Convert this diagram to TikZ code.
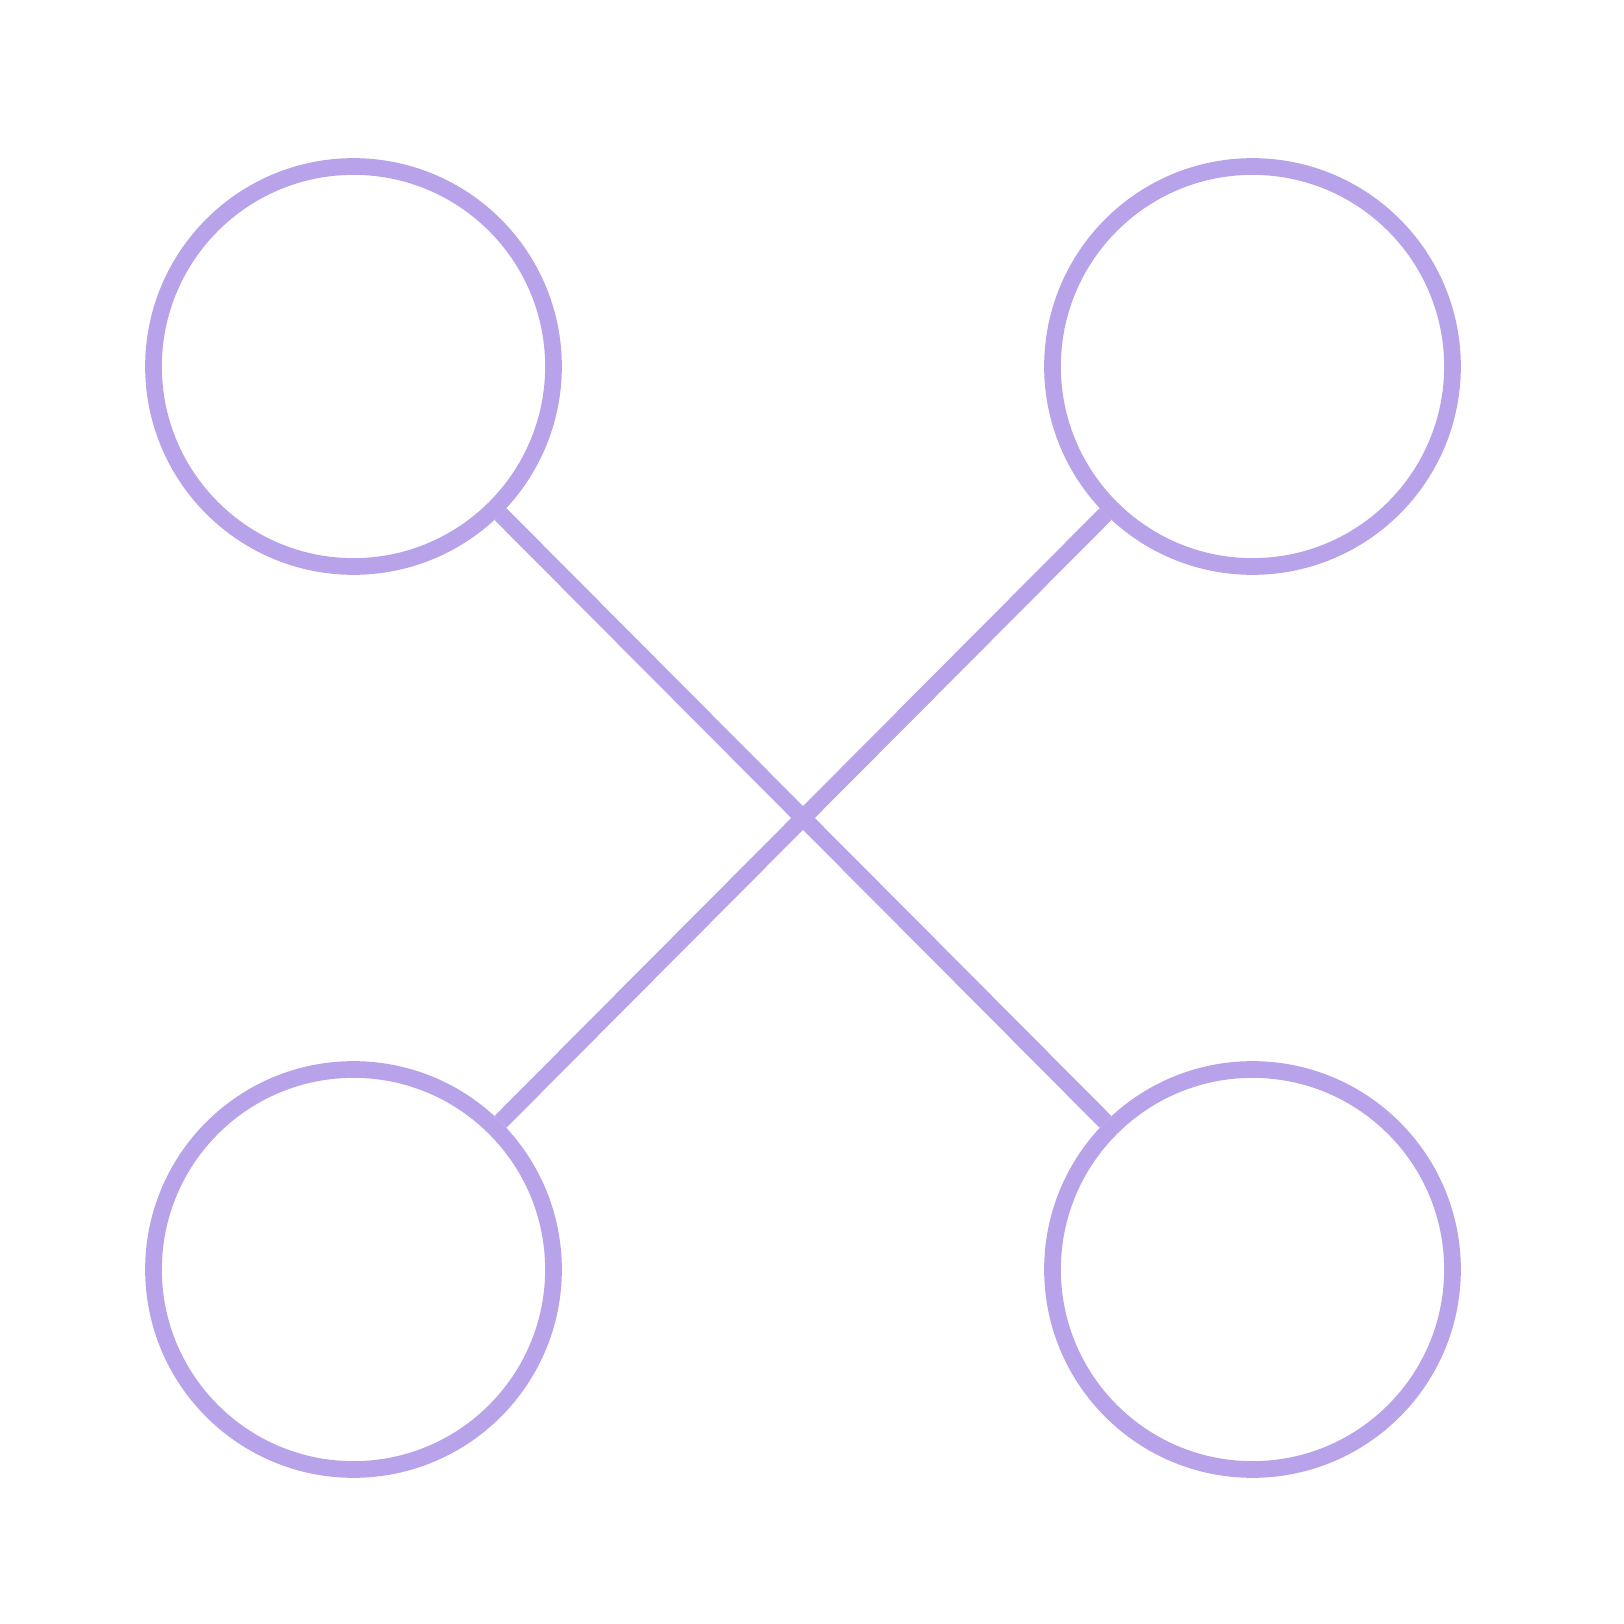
\documentclass[tikz,border=0pt]{standalone}
\usetikzlibrary{positioning}
\definecolor{lavender}{RGB}{184,162,234}
\begin{document}
\begin{tikzpicture}[on grid,node distance=9.03cm and 8.99cm,
	ring/.style={circle,draw=lavender,line width=0.167cm,minimum size=4.0cm,inner sep=0pt}]
	\useasboundingbox (0,0) rectangle (16.24,16.24);
    	\node[ring] (n_1) at (3.535,12.575) {}; 
    	\node[ring] (n_2) [right=of n_1] {}; 
  		\node[ring] (n_3) [below=of n_1] {};
    	\node[ring] (n_4) [right=of n_3] {};
        \path[draw=lavender,line width=0.167cm] 
        (n_1) -- (n_4)
        (n_2) -- (n_3)
              ;
	\end{tikzpicture}
\end{document}
